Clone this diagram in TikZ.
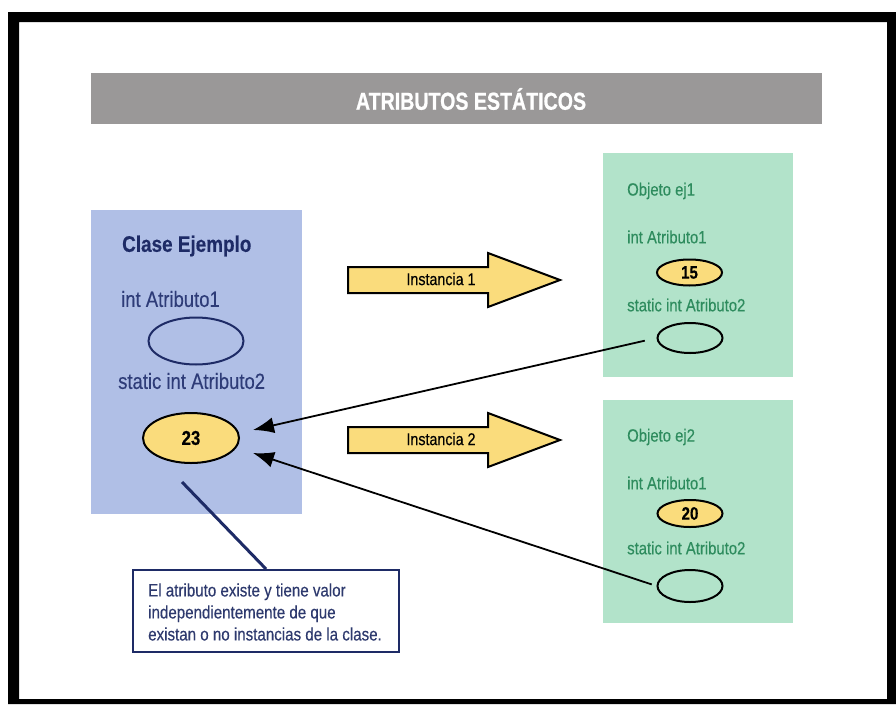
\documentclass[tikz,border=0pt]{standalone}
\usepackage{fontspec}
\setmainfont[FakeStretch=0.84,FakeBold=0.3]{Liberation Sans}
\newfontfamily\titlefont[FakeStretch=0.8,FakeBold=0.8]{Liberation Sans Bold}
\usetikzlibrary{shapes.geometric,arrows.meta,calc}
\definecolor{bannergray}{HTML}{9A9898}
\definecolor{clsblue}{HTML}{B0BFE6}
\definecolor{navy}{HTML}{1E2B66}
\definecolor{bluetext}{HTML}{2E3C78}
\definecolor{objgreen}{HTML}{B2E3CA}
\definecolor{greentext}{HTML}{2E8C5E}
\definecolor{valyellow}{HTML}{FADC7C}
\definecolor{notetext}{HTML}{2E3A6E}
\begin{document}
\begin{tikzpicture}[x=1pt,y=-1pt,
  bluelbl/.style={anchor=west, inner sep=0pt, text=bluetext, font=\fontsize{22}{24}\selectfont},
  greenlbl/.style={anchor=west, inner sep=0pt, text=greentext, font=\fontsize{17.7}{20}\selectfont},
  valell/.style={ellipse, draw=black, line width=2pt, fill=valyellow, inner sep=0pt, font=\bfseries\fontsize{18}{20}\selectfont},
  emptyell/.style={ellipse, draw=black, line width=2pt, inner sep=0pt},
  blockarrow/.style={draw=black, line width=2pt, fill=valyellow, line join=miter},
  arrlbl/.style={inner sep=0pt, font=\fontsize{17}{20}\selectfont},
  ptr/.style={line width=1.8pt, -{Latex[length=21pt,width=16pt]}}
]
\useasboundingbox (0,0) rectangle (896,704);
% frame
\fill[black, even odd rule] (8,12) rectangle (896,704) (19,22) rectangle (887,699);
% banner
\node[fill=bannergray, inner sep=0pt, minimum width=731pt, minimum height=51pt] (banner) at (456.5,98.5) {};
\node[text=white, inner sep=0pt, font=\titlefont\fontsize{24.5}{26}\selectfont] (title) at (471,99) {ATRIBUTOS ESTÁTICOS};
% class box
\node[fill=clsblue, inner sep=0pt, minimum width=211pt, minimum height=304pt] (cls) at (196.5,362) {};
\node[bluelbl, text=navy, font=\bfseries\fontsize{22.5}{24}\selectfont] (clsname) at (122,246) {Clase Ejemplo};
\node[bluelbl] (ca1) at (121,299) {int Atributo1};
\node[emptyell, draw=navy, minimum width=95pt, minimum height=47pt] (a1) at (196,341) {};
\node[bluelbl] (ca2) at (118,381) {static int Atributo2};
\node[valell, minimum width=96pt, minimum height=50pt, font=\bfseries\fontsize{20}{22}\selectfont] (v23) at (191,438) {23};
% object boxes
\node[fill=objgreen, inner sep=0pt, minimum width=190pt, minimum height=224pt] (obj1) at (698,265) {};
\node[fill=objgreen, inner sep=0pt, minimum width=190pt, minimum height=223pt] (obj2) at (698,511.5) {};
\node[greenlbl] (o1name) at (627,191) {Objeto ej1};
\node[greenlbl] (o1a1) at (627,237) {int Atributo1};
\node[valell, minimum width=65pt, minimum height=26pt] (v15) at (689.5,272.5) {15};
\node[greenlbl] (o1a2) at (627,305) {static int Atributo2};
\node[emptyell, minimum width=65pt, minimum height=30pt] (s1) at (690,338) {};
\node[greenlbl] (o2name) at (627,437) {Objeto ej2};
\node[greenlbl] (o2a1) at (627,483) {int Atributo1};
\node[valell, minimum width=65pt, minimum height=27pt] (v20) at (690,513.5) {20};
\node[greenlbl] (o2a2) at (627,548) {static int Atributo2};
\node[emptyell, minimum width=65pt, minimum height=32pt] (s2) at (690,586) {};
% block arrows
\draw[blockarrow] (348,267) -- (488,267) -- (488,253) -- (560,280) -- (488,307) -- (488,293) -- (348,293) -- cycle;
\node[arrlbl] (inst1) at (441,279) {Instancia 1};
\draw[blockarrow] (348,427) -- (488,427) -- (488,413) -- (560,440) -- (488,467) -- (488,453) -- (348,453) -- cycle;
\node[arrlbl] (inst2) at (441,439) {Instancia 2};
% pointers to the static value
\coordinate (t1) at (253,430);
\coordinate (t2) at (253,453);
\draw[ptr, shorten <=12pt] (s1.west) -- (t1);
\draw[ptr, shorten <=5pt] (s2.west) -- (t2);
% note
\node[draw=navy, line width=2pt, fill=white, minimum width=266pt, minimum height=82pt, inner sep=0pt] (note) at (266,611) {};
\node[anchor=west, inner sep=0pt, text=notetext, align=left, font=\fontsize{18}{22}\selectfont] (notetxt) at (148,612) {El atributo existe y tiene valor\\independientemente de que\\existan o no instancias de la clase.};
\coordinate (c0) at (182,482);
\draw[navy, line width=3pt] (c0) -- (note.north);
\end{tikzpicture}
\end{document}
